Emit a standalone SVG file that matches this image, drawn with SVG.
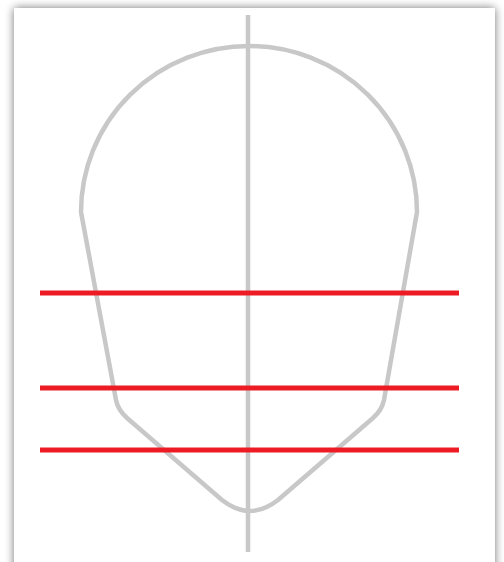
<svg xmlns="http://www.w3.org/2000/svg" width="504" height="562" viewBox="0 0 504 562">
<defs>
<filter id="sh" x="-10%" y="-10%" width="120%" height="120%">
<feGaussianBlur in="SourceAlpha" stdDeviation="5"/>
<feComponentTransfer><feFuncA type="linear" slope="0.55"/></feComponentTransfer>
<feMerge><feMergeNode/><feMergeNode in="SourceGraphic"/></feMerge>
</filter>
<style>
.g{fill:none;stroke:#c8c8c8;stroke-width:4.5;stroke-linejoin:round}
.r{stroke:#ed1c24;stroke-width:5}
</style>
</defs>
<rect width="504" height="562" fill="#ffffff"/>
<rect x="14" y="8" width="481" height="570" fill="#ffffff" filter="url(#sh)"/>
<g id="head">
<path class="g" d="M81,212 A168,166 0 0 1 417,212 L384,400 Q382,410 373,418 L278,500 Q250,522 222,500 L127,418 Q118,410 116,400 Z"/>
</g>
<g id="axis">
<line class="g" x1="248" y1="15" x2="248" y2="552"/>
</g>
<g id="guides">
<line class="r" x1="40" y1="293" x2="459" y2="293"/>
<line class="r" x1="40" y1="388" x2="459" y2="388"/>
<line class="r" x1="40" y1="450" x2="459" y2="450"/>
</g>
</svg>
